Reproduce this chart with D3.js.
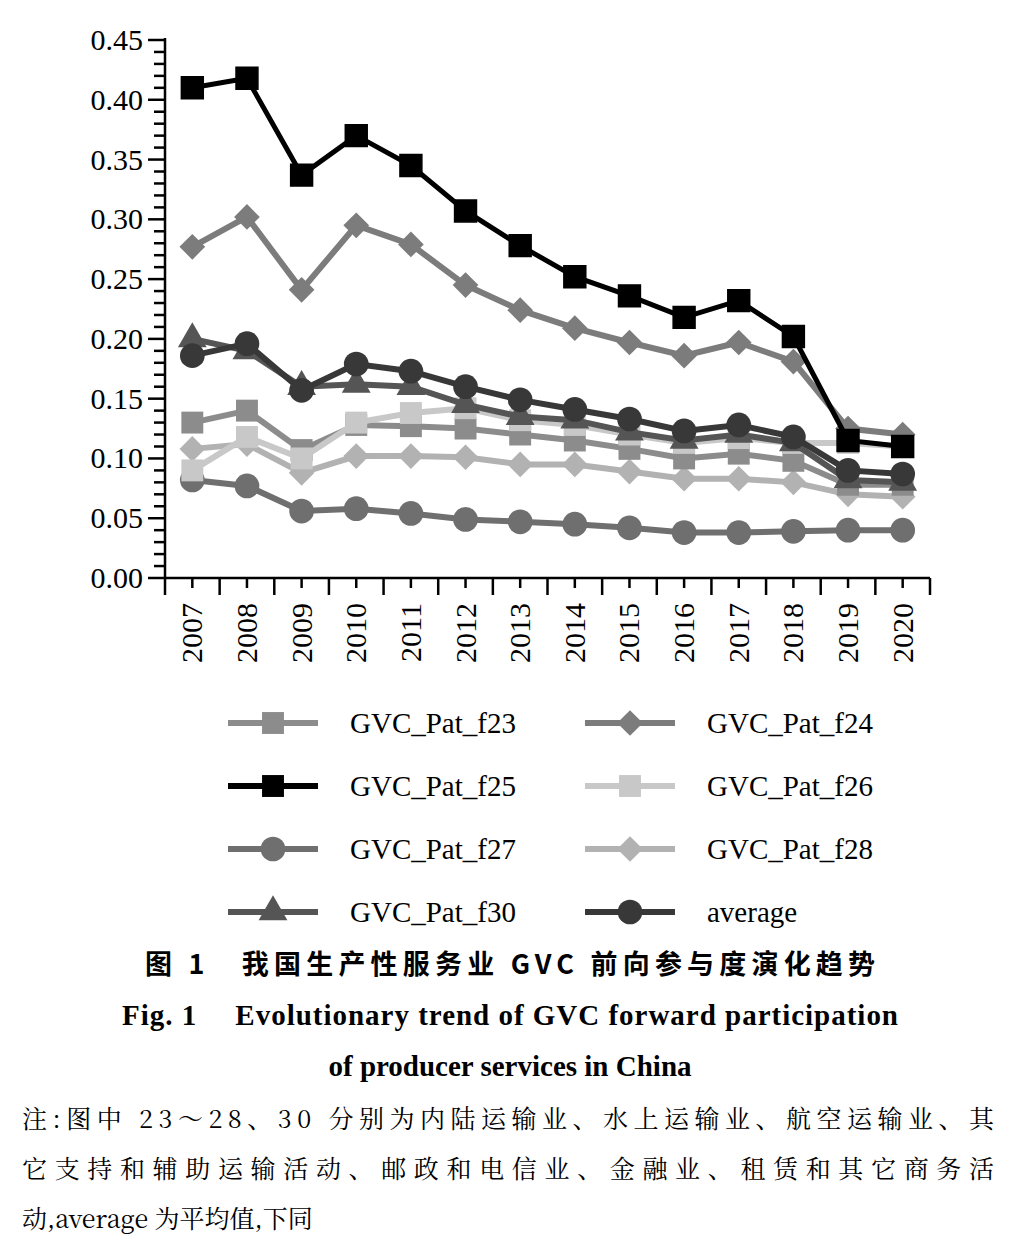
<!DOCTYPE html>
<html><head><meta charset="utf-8">
<script src="https://cdn.jsdelivr.net/npm/d3@7"></script>
<style>body{margin:0;background:#fff}</style>
</head><body>
<svg id="chart" width="1032" height="1248"></svg>
<script>
var years = ["2007","2008","2009","2010","2011","2012","2013","2014","2015","2016","2017","2018","2019","2020"];
var yTicks = [0,0.05,0.10,0.15,0.20,0.25,0.30,0.35,0.40,0.45];
var f23 = [0.130,0.140,0.107,0.128,0.127,0.125,0.120,0.115,0.108,0.100,0.104,0.098,0.078,0.078];
var f24 = [0.277,0.302,0.241,0.295,0.279,0.245,0.224,0.209,0.197,0.186,0.197,0.181,0.125,0.120];
var f25 = [0.410,0.418,0.337,0.370,0.345,0.307,0.278,0.252,0.236,0.218,0.232,0.202,0.115,0.110];
var f26 = [0.090,0.118,0.100,0.130,0.138,0.142,0.132,0.128,0.120,0.113,0.117,0.113,0.113,0.110];
var f27 = [0.082,0.077,0.056,0.058,0.054,0.049,0.047,0.045,0.042,0.038,0.038,0.039,0.040,0.040];
var f28 = [0.108,0.112,0.088,0.102,0.102,0.101,0.095,0.095,0.089,0.083,0.083,0.080,0.070,0.068];
var f30 = [0.200,0.190,0.160,0.162,0.160,0.145,0.135,0.132,0.122,0.115,0.120,0.113,0.082,0.080];
var avg = [0.186,0.196,0.157,0.179,0.173,0.160,0.149,0.141,0.133,0.123,0.128,0.118,0.090,0.087];

var series = [
  {name:"GVC_Pat_f27", vals:f27, color:"#6f6f6f", sym:"circle"},
  {name:"GVC_Pat_f28", vals:f28, color:"#b2b2b2", sym:"diamond"},
  {name:"GVC_Pat_f23", vals:f23, color:"#8c8c8c", sym:"square"},
  {name:"GVC_Pat_f26", vals:f26, color:"#c8c8c8", sym:"square"},
  {name:"GVC_Pat_f30", vals:f30, color:"#555555", sym:"triangle"},
  {name:"average", vals:avg, color:"#383838", sym:"circle"},
  {name:"GVC_Pat_f24", vals:f24, color:"#7c7c7c", sym:"diamond"},
  {name:"GVC_Pat_f25", vals:f25, color:"#000000", sym:"square"}
];
var legendOrder = ["GVC_Pat_f23","GVC_Pat_f24","GVC_Pat_f25","GVC_Pat_f26","GVC_Pat_f27","GVC_Pat_f28","GVC_Pat_f30","average"];

var svg = d3.select("#chart");
var serif = "'Liberation Serif','DejaVu Serif',serif";
var x = d3.scaleBand().domain(years).range([165, 930]);
var y = d3.scaleLinear().domain([0, 0.45]).range([578, 40]);
var symMap = {circle:d3.symbolCircle, square:d3.symbolSquare, diamond:d3.symbolSquare, triangle:d3.symbolTriangle};
var symSize = {circle:480, square:480, diamond:330, triangle:360};
var rot = function (s) { return s.sym === "diamond" ? " rotate(45)" : ""; };

// y axis with minor ticks
var ax = svg.append("g").attr("stroke", "#000").attr("stroke-width", 2.5);
ax.append("line").attr("x1", 165).attr("x2", 165).attr("y1", 38).attr("y2", 578);
d3.range(0, 46).forEach(function (i) {
  var v = i / 100;
  ax.append("line").attr("x1", i % 5 === 0 ? 148 : 154).attr("x2", 165)
    .attr("y1", y(v)).attr("y2", y(v));
});
svg.append("g").selectAll("text").data(yTicks).join("text")
  .attr("x", 143).attr("y", function (d) { return y(d) + 10; })
  .attr("text-anchor", "end").attr("font-family", serif).attr("font-size", 30)
  .text(function (d) { return d.toFixed(2); });

// x axis
ax.append("line").attr("x1", 165).attr("x2", 930).attr("y1", 578).attr("y2", 578);
years.forEach(function (yr, i) {
  var c = x(yr) + x.bandwidth() / 2;
  ax.append("line").attr("x1", c).attr("x2", c).attr("y1", 578).attr("y2", 588);
  ax.append("line").attr("x1", x(yr)).attr("x2", x(yr)).attr("y1", 578).attr("y2", 595);
  if (i === years.length - 1) ax.append("line").attr("x1", 930).attr("x2", 930).attr("y1", 578).attr("y2", 595);
});
svg.append("g").selectAll("text").data(years).join("text")
  .attr("transform", function (d) { return "translate(" + (x(d) + x.bandwidth() / 2 + 10) + ",603) rotate(-90)"; })
  .attr("text-anchor", "end").attr("font-family", serif).attr("font-size", 30)
  .text(function (d) { return d; });

var cx = function (i) { return x(years[i]) + x.bandwidth() / 2; };
var line = d3.line().x(function (d, i) { return cx(i); }).y(function (d) { return y(d); });

series.forEach(function (s) {
  var g = svg.append("g");
  g.append("path").attr("d", line(s.vals)).attr("fill", "none")
    .attr("stroke", s.color).attr("stroke-width", s.name === "GVC_Pat_f25" ? 5 : 6);
  g.selectAll("path.m").data(s.vals).join("path").attr("class", "m")
    .attr("transform", function (d, i) { return "translate(" + cx(i) + "," + y(d) + ")" + rot(s); })
    .attr("d", d3.symbol(symMap[s.sym], symSize[s.sym]))
    .attr("fill", s.color)
    .attr("stroke", s.name === "GVC_Pat_f25" ? "#000" : "none").attr("stroke-width", 1.5);
});

// legend
var lg = svg.append("g");
legendOrder.forEach(function (n, i) {
  var s = series.find(function (d) { return d.name === n; });
  var col = i % 2, row = Math.floor(i / 2);
  var lx = col === 0 ? 228 : 585, ly = 723 + row * 63;
  lg.append("line").attr("x1", lx).attr("x2", lx + 90).attr("y1", ly).attr("y2", ly)
    .attr("stroke", s.color).attr("stroke-width", 6);
  lg.append("path").attr("transform", "translate(" + (lx + 45) + "," + ly + ")" + rot(s))
    .attr("d", d3.symbol(symMap[s.sym], symSize[s.sym])).attr("fill", s.color);
  lg.append("text").attr("x", lx + 122).attr("y", ly + 10)
    .attr("font-family", serif).attr("font-size", 29).text(n);
});

// captions
svg.append("text").attr("x", 510).attr("y", 974).attr("text-anchor", "middle")
  .attr("font-family", "'Noto Sans CJK SC',sans-serif").attr("font-weight", "bold").attr("font-size", 27)
  .attr("textLength", 730)
  .text("图 1\u3000我国生产性服务业 GVC 前向参与度演化趋势");
svg.append("text").attr("x", 510).attr("y", 1025).attr("text-anchor", "middle")
  .attr("font-family", serif).attr("font-weight", "bold").attr("font-size", 29)
  .attr("textLength", 776)
  .text("Fig. 1\u2003 Evolutionary trend of GVC forward participation");
svg.append("text").attr("x", 510).attr("y", 1076).attr("text-anchor", "middle")
  .attr("font-family", serif).attr("font-weight", "bold").attr("font-size", 29)
  .text("of producer services in China");
var notes = ["注:图中 23～28、30 分别为内陆运输业、水上运输业、航空运输业、其",
  "它支持和辅助运输活动、邮政和电信业、金融业、租赁和其它商务活",
  "动,average 为平均值,下同"];
svg.append("g").selectAll("text").data(notes).join("text")
  .attr("x", 22).attr("y", function (d, i) { return 1128 + i * 50; })
  .attr("font-family", "'Noto Serif CJK SC','Noto Sans CJK SC',serif").attr("font-size", 25)
  .attr("textLength", function (d, i) { return i < 2 ? 972 : null; })
  .text(function (d) { return d; });
</script>
</body></html>
